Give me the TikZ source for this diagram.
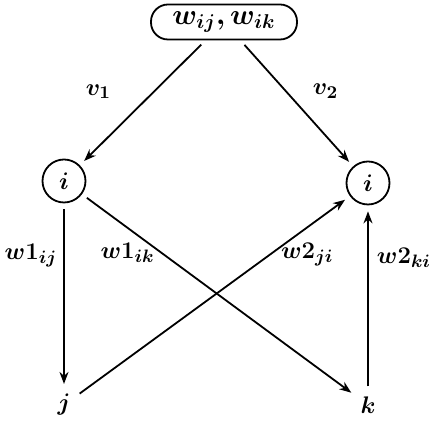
\documentclass[tikz,border=0pt]{standalone}
\usepackage{amsmath,bm}
\usetikzlibrary{arrows.meta}
\begin{document}
\begin{tikzpicture}[x=0.5pt,y=-0.5pt]
	\tikzset{
		big/.style={font=\fontsize{13}{16}\selectfont},
		vertex/.style={draw,circle,line width=0.9pt,minimum size=21.5pt,inner sep=0pt,big},
		leaf/.style={inner sep=2pt,big},
		weight box/.style={draw,line width=0.9pt,rounded corners=8.5pt,minimum width=73pt,minimum height=17.5pt,font=\Large},
		edge/.style={line width=0.9pt,shorten <=3pt,shorten >=3pt,-{Stealth[length=6pt,width=4.5pt]}},
		weight/.style={font=\fontsize{12.5}{15}\selectfont,inner sep=2pt}
	}
	\useasboundingbox (0,0) rectangle (429,421);
	\node[weight box] (W) at (224,22) {$\bm{w_{ij}, w_{ik}}$};
	\foreach \name/\x/\y/\text in {
		il/64/181/i,ir/368/183/i
	}{
		\node[vertex] (\name) at (\x,\y) {$\bm{\text}$};
	}
	\node[leaf] (j) at (64,405) {$\bm{j}$};
	\node[leaf] (k) at (368,405) {$\bm{k}$};
	\draw[edge] (W) -- (il) node[weight,pos=0.41,left=19pt] {$\bm{v_1}$};
	\draw[edge] (W) -- (ir) node[weight,pos=0.405,right=11pt] {$\bm{v_2}$};
	\draw[edge] (il) -- (j) node[weight,pos=0.28,left=1pt] {$\bm{w1_{ij}}$};
	\draw[edge] (il) -- (k) node[weight,pos=0.29,left=1pt] {$\bm{w1_{ik}}$};
	\draw[edge] (j) -- (ir) node[weight,pos=0.71,right=3pt] {$\bm{w2_{ji}}$};
	\draw[edge] (k) -- (ir) node[weight,pos=0.72,right=2pt] {$\bm{w2_{ki}}$};
\end{tikzpicture}
\end{document}
